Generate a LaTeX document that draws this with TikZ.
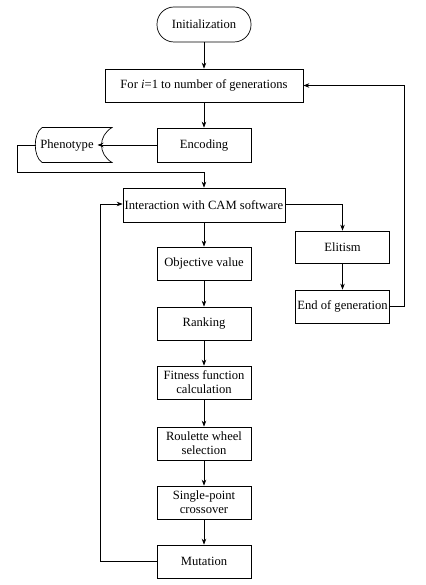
\documentclass[tikz,border=0pt]{standalone}
\usepackage{fontspec}
\setmainfont{Liberation Serif}
\usetikzlibrary{arrows.meta,positioning,calc}
\begin{document}
\begin{tikzpicture}[x=1pt,y=-1pt,
  every node/.style={font=\fontsize{12.6}{14.2}\selectfont},
  box/.style={draw, line width=0.7pt, minimum width=94pt, minimum height=33pt, inner sep=0.5pt, align=center},
  conn/.style={line width=0.7pt, -{Stealth[length=6pt,width=4.5pt]}},
  plain/.style={line width=0.7pt}]
\useasboundingbox (0,0) rectangle (425,585);
\node[draw, line width=0.7pt, rounded corners=17pt, minimum width=94pt, minimum height=35pt] (init) at (204,24.5) {Initialization};
\node[box, minimum width=198pt] (for) at (204,85.5) {For \textit{i}=1 to number of generations};
\node[box, minimum height=34pt] (enc) at (204,145) {Encoding};
% Phenotype shape
\draw[line width=0.7pt] (42,127.5) -- (112,127.5) .. controls (98,136) and (98,154) .. (112,162.5) -- (42,162.5) .. controls (33,156) and (33,134) .. (42,127.5);
\node[inner sep=0pt] (phen) at (67,145) {Phenotype};
\coordinate (phR) at (97.5,145);
\coordinate (phL) at (36,145);
\node[box, minimum width=162pt, minimum height=34pt] (inter) at (204,205) {Interaction with CAM software};
\node[box, minimum height=32pt] (elit) at (342.5,247) {Elitism};
\node[box, minimum height=33pt] (endg) at (342.5,306.5) {End of generation};
\node[box] (obj) at (204,263.5) {Objective value};
\node[box] (rank) at (204,323.5) {Ranking};
\node[box] (fit) at (204,382.5) {Fitness function\\calculation};
\node[box] (roul) at (204,443.5) {Roulette wheel\\selection};
\node[box] (single) at (204,502.5) {Single-point\\crossover};
\node[box] (mut) at (204,561.5) {Mutation};
% connectors
\draw[conn] (init) -- (for);
\draw[conn] (for) -- (enc);
\draw[conn] (enc.west) -- (phR);
\draw[conn] (phL) -- (17,145) -- (17,172) -- (204,172) -- (inter.north);
\draw[conn] (inter.east |- 0,204) -| (elit.north);
\draw[conn] (elit) -- (endg);
\draw[conn] (endg.east) -- (404,306.5) -- (404,85.5) -- (for.east);
\draw[conn] (inter) -- (obj);
\draw[conn] (obj) -- (rank);
\draw[conn] (rank) -- (fit);
\draw[conn] (fit) -- (roul);
\draw[conn] (roul) -- (single);
\draw[conn] (single) -- (mut);
\draw[conn] (mut.west) -- (100,561.5) -- (100,204) -- (inter.west |- 0,204);
\end{tikzpicture}
\end{document}
